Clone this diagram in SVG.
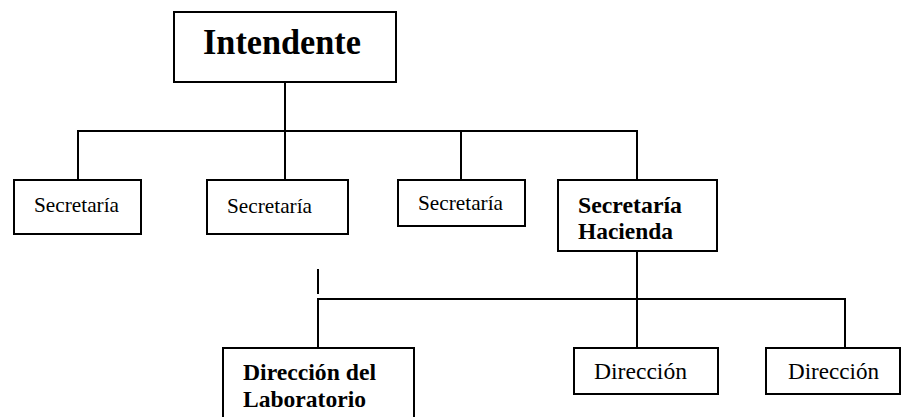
<svg xmlns="http://www.w3.org/2000/svg" width="902" height="417" viewBox="0 0 902 417">
<style>
  .box { fill: #ffffff; stroke: #000000; stroke-width: 2; }
  .conn { fill: none; stroke: #000000; stroke-width: 2; }
  text { fill: #000000; }
  .bold { font-weight: bold; }
</style>
<rect x="0" y="0" width="902" height="417" fill="#ffffff"/>
<g id="connectors">
  <line class="conn" x1="285" y1="83" x2="285" y2="179"/>
  <line class="conn" x1="77" y1="131" x2="638" y2="131"/>
  <line class="conn" x1="78" y1="131" x2="78" y2="179"/>
  <line class="conn" x1="461" y1="131" x2="461" y2="179"/>
  <line class="conn" x1="637" y1="131" x2="637" y2="179"/>
  <line class="conn" x1="637" y1="252" x2="637" y2="347"/>
  <line class="conn" x1="317" y1="299" x2="846" y2="299"/>
  <line class="conn" x1="318" y1="299" x2="318" y2="347"/>
  <line class="conn" x1="845" y1="299" x2="845" y2="347"/>
  <line class="conn" x1="318" y1="269" x2="318" y2="294"/>
</g>
<g font-family="Liberation Serif">
<g id="intendente">
  <rect class="box" x="174" y="12" width="222" height="70"/>
  <text class="bold" font-family="Liberation Serif" x="203" y="54" font-size="35" textLength="158" lengthAdjust="spacingAndGlyphs">Intendente</text>
</g>
<g id="secretaria1">
  <rect class="box" x="14" y="180" width="127" height="54"/>
  <text font-family="Liberation Serif" x="34" y="212" font-size="22" textLength="85" lengthAdjust="spacingAndGlyphs">Secretaría</text>
</g>
<g id="secretaria2">
  <rect class="box" x="207" y="180" width="141" height="54"/>
  <text font-family="Liberation Serif" x="227" y="213" font-size="22" textLength="85" lengthAdjust="spacingAndGlyphs">Secretaría</text>
</g>
<g id="secretaria3">
  <rect class="box" x="398" y="180" width="127" height="46"/>
  <text font-family="Liberation Serif" x="418" y="210" font-size="22" textLength="85" lengthAdjust="spacingAndGlyphs">Secretaría</text>
</g>
<g id="secretaria-hacienda">
  <rect class="box" x="558" y="180" width="159" height="71"/>
  <text class="bold" font-family="Liberation Serif" x="578" y="213" font-size="23.5" textLength="104" lengthAdjust="spacingAndGlyphs">Secretaría</text>
  <text class="bold" font-family="Liberation Serif" x="578" y="239" font-size="23.5" textLength="95" lengthAdjust="spacingAndGlyphs">Hacienda</text>
</g>
<g id="direccion-laboratorio">
  <rect class="box" x="223" y="348" width="191" height="80"/>
  <text class="bold" font-family="Liberation Serif" x="243" y="380" font-size="23.5" textLength="133" lengthAdjust="spacingAndGlyphs">Dirección del</text>
  <text class="bold" font-family="Liberation Serif" x="243" y="407" font-size="23.5" textLength="123" lengthAdjust="spacingAndGlyphs">Laboratorio</text>
</g>
<g id="direccion2">
  <rect class="box" x="574" y="348" width="144" height="46"/>
  <text font-family="Liberation Serif" x="594" y="379" font-size="23.5" textLength="93" lengthAdjust="spacingAndGlyphs">Dirección</text>
</g>
<g id="direccion3">
  <rect class="box" x="766" y="348" width="134" height="46"/>
  <text font-family="Liberation Serif" x="788" y="379" font-size="23.5" textLength="91" lengthAdjust="spacingAndGlyphs">Dirección</text>
</g>
</g>
</svg>
